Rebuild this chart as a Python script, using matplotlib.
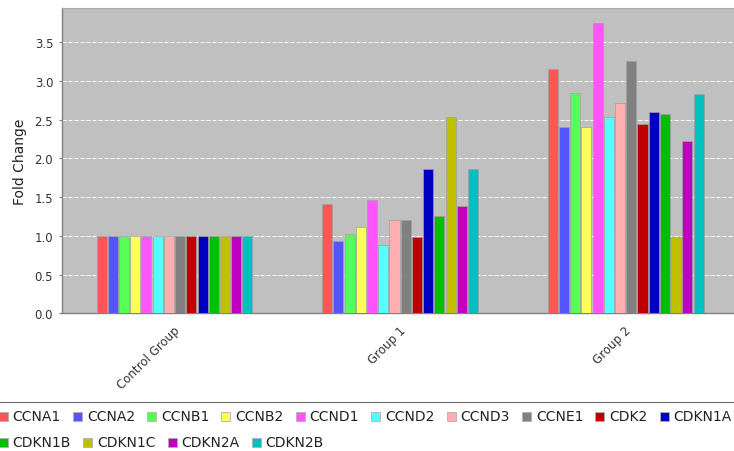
#!/usr/bin/env python3
"""Fold change of cell-cycle genes per group, drawn as grouped bars."""
import numpy as np
import matplotlib
matplotlib.use("Agg")
import matplotlib.pyplot as plt
from matplotlib.patches import Rectangle
from matplotlib.transforms import ScaledTranslation, IdentityTransform

groups = ["Control Group", "Group 1", "Group 2"]
genes = ["CCNA1", "CCNA2", "CCNB1", "CCNB2", "CCND1", "CCND2", "CCND3",
         "CCNE1", "CDK2", "CDKN1A", "CDKN1B", "CDKN1C", "CDKN2A", "CDKN2B"]

control = [1.0] * 14
group1 = [1.41, 0.94, 1.03, 1.11, 1.46, 0.88, 1.21, 1.20, 0.99, 1.87, 1.26, 2.54, 1.38, 1.87]
group2 = [3.16, 2.41, 2.85, 2.41, 3.75, 2.54, 2.72, 3.26, 2.45, 2.60, 2.57, 0.99, 2.23, 2.83]

# JFreeChart default paint sequence
colors = ["#FF5555", "#5555FF", "#55FF55", "#FFFF55", "#FF55FF", "#55FFFF", "#FFAFAF",
          "#808080", "#C00000", "#0000C0", "#00C000", "#C0C000", "#C000C0", "#00C0C0"]

W, H = 734, 452
fig = plt.figure(figsize=(W / 100, H / 100), dpi=100)

# plot area in pixels: left 61.7, top 9, bottom 314.3, runs slightly past the right edge
left, top, bottom, width = 61.7, 9.0, 314.3, 676.8
ax = fig.add_axes([left / W, (H - bottom) / H, width / W, (bottom - top) / H])
ax.set_facecolor("#C0C0C0")

values = np.array([control, group1, group2])  # groups x genes
x = np.arange(len(groups))
step = 0.0497
bar_w = 0.0445
offsets = (np.arange(len(genes)) - (len(genes) - 1) / 2) * step
for i, gene in enumerate(genes):
    ax.bar(x + offsets[i], values[:, i], width=bar_w, color=colors[i],
           edgecolor="#A0A0A0", linewidth=0.5, zorder=3)

ax.set_xlim(-0.5, 2.5)
ax.set_ylim(0, 3.943)
ax.set_yticks(np.arange(0, 3.51, 0.5))
ax.set_yticklabels([f"{v:.1f}" for v in np.arange(0, 3.51, 0.5)], fontsize=8.5, color="#333333")
ax.tick_params(axis="y", length=2.5, width=0.8, color="#808080", pad=3.6)
ax.yaxis.grid(True, color="white", linewidth=0.72, linestyle=(0, (4, 2)), zorder=1)
ax.set_axisbelow(True)

ax.set_xticks(x)
ax.set_xticklabels(groups, rotation=45, ha="right", va="top", fontsize=8.5, color="#333333")
ax.tick_params(axis="x", length=0, pad=7)
shift = ScaledTranslation(8 / 100, 0, fig.dpi_scale_trans)
for lbl in ax.get_xticklabels():
    lbl.set_transform(lbl.get_transform() + shift)

for side in ["left", "bottom"]:
    ax.spines[side].set_color("#808080")
    ax.spines[side].set_linewidth(1.0)
ax.spines["top"].set_color("#A8A8A8")
ax.spines["right"].set_visible(False)

fig.text(20 / W, (H - 162) / H, "Fold Change", rotation=90, ha="center", va="center",
         fontsize=10, color="#222222")

# legend: flow layout in pixel coordinates, top border only visible
fig.add_artist(plt.Line2D([0, 1], [(H - 402.7) / H] * 2, color="#666666", linewidth=0.8,
                          transform=fig.transFigure))
renderer = fig.canvas.get_renderer()
pix = IdentityTransform()
rows = [genes[:10], genes[10:]]
row_base = [421.5, 447.5]
box = 9
gap = 12
x0 = 12.7 - box - 5
idx = 0
for r, row in enumerate(rows):
    xp = x0
    for gene in row:
        yb = H - row_base[r]
        fig.add_artist(Rectangle((xp, yb), box, box, facecolor=colors[idx],
                                 edgecolor="#B0B0B0", linewidth=0.6, transform=pix))
        t = fig.text(xp + box + 5, yb, gene, transform=pix, ha="left", va="baseline",
                     fontsize=10, color="#222222")
        tw = t.get_window_extent(renderer).width
        xp = xp + box + 5 + tw + gap
        idx += 1

fig.savefig("out.png", dpi=100)
